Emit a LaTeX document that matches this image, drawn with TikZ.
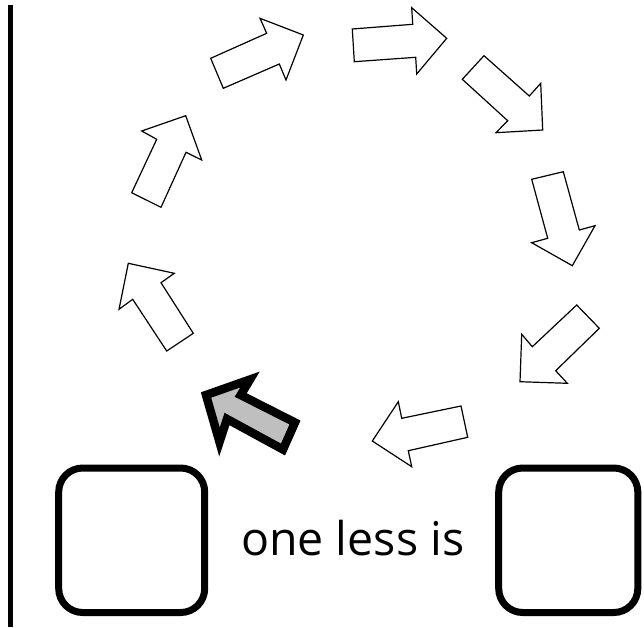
\documentclass[tikz,border=0pt]{standalone}
\usepackage{fontspec}
\setmainfont{Open Sans}
\begin{document}
\begin{tikzpicture}[x=1pt,y=-1pt,
  blockarrow/.style={draw=black,fill=white,line width=1.2pt,line join=miter},
  curarrow/.style={draw=black,fill=black!25,line width=8.5pt,line join=miter},
  answerbox/.style={draw=black,line width=7pt,rounded corners=24pt}]
\useasboundingbox (0,0) rectangle (644,627);
% vertical line
\draw[line width=5pt] (10,5) -- (10,627);
% arrows around the circle
\draw[blockarrow] (352.3,29) -- (412.7,24.3) -- (411.7,7.7) -- (446.7,38.3) -- (416.7,74) -- (415.7,57.3) -- (354.3,61.7) -- cycle;
\draw[blockarrow] (462.3,79.3) -- (484,55.7) -- (529.3,96) -- (540.7,83.3) -- (542.7,130) -- (496,132.7) -- (507.7,120.7) -- cycle;
\draw[blockarrow] (531.7,179.3) -- (563.3,171.7) -- (579.3,230) -- (595,225.7) -- (572.3,265.7) -- (531.7,242.7) -- (547.7,238.3) -- cycle;
\draw[blockarrow] (576.7,305) -- (599.3,328.3) -- (555.7,370.7) -- (567.3,383.3) -- (520,381.7) -- (521.7,334.3) -- (532.3,346.7) -- cycle;
\draw[blockarrow] (461,406) -- (467.7,437.3) -- (408.3,450.7) -- (411.7,466.7) -- (372.3,441) -- (398.3,401.7) -- (401.7,418.3) -- cycle;
\draw[curarrow] (295,422.5) -- (283,449.5) -- (227,419) -- (219.5,442) -- (206,395) -- (250,379.5) -- (240.7,395) -- cycle;
\draw[blockarrow] (193.3,333.3) -- (166.7,351) -- (132.7,299.3) -- (119,309.3) -- (128.3,263.3) -- (174.3,273.3) -- (161,282.7) -- cycle;
\draw[blockarrow] (161,207.3) -- (131.7,192.7) -- (156.7,139.3) -- (141.7,131) -- (185.7,115.7) -- (201.7,160) -- (186,152.3) -- cycle;
\draw[blockarrow] (223.3,88.3) -- (210.7,58.3) -- (266.7,33.3) -- (260,18.3) -- (303.3,35) -- (286,80) -- (279.3,64) -- cycle;
% boxes and text
\draw[answerbox] (58.7,468) rectangle (204.7,612.5);
\draw[answerbox] (498.7,468) rectangle (637.8,612.5);
\node[anchor=base west,inner sep=0pt,font=\fontsize{46.5}{50}\selectfont] (txt) at (241,555) {one less is};
\end{tikzpicture}
\end{document}
